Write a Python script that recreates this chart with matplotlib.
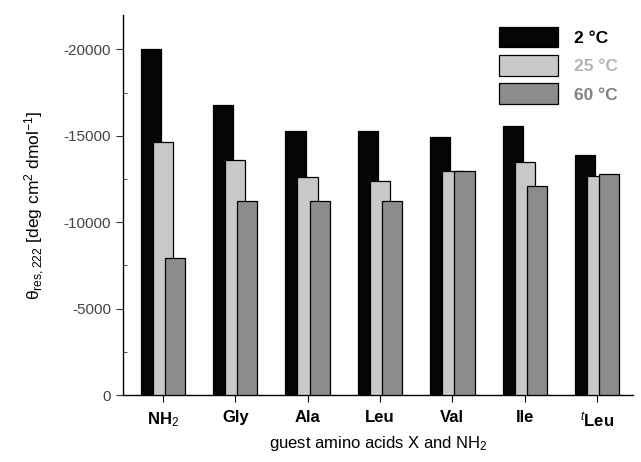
import numpy as np
import matplotlib
matplotlib.use('Agg')
import matplotlib.pyplot as plt
from matplotlib.ticker import MultipleLocator

plt.rcParams['font.family'] = ['Liberation Sans', 'DejaVu Sans']
plt.rcParams['mathtext.fontset'] = 'custom'
plt.rcParams['mathtext.rm'] = 'Liberation Sans'
plt.rcParams['mathtext.it'] = 'Liberation Sans:italic'
plt.rcParams['mathtext.bf'] = 'Liberation Sans:bold'

# data (mean residue ellipticity at 222 nm)
amino = ['NH$_2$', 'Gly', 'Ala', 'Leu', 'Val', 'Ile', '$^t$Leu']
temps = ['2 °C', '25 °C', '60 °C']
t2 = [-20000, -16800, -15300, -15300, -14900, -15550, -13900]
t25 = [-14650, -13600, -12600, -12400, -12950, -13500, -12700]
t60 = [-7950, -11250, -11250, -11250, -12950, -12100, -12800]

colors = ['#050505', '#c8c8c8', '#8c8c8c']
txtcol = ['#000000', '#b4b4b4', '#808080']

fig = plt.figure(figsize=(6.41, 4.62), dpi=100)
ax = fig.add_axes([0.192, 0.145, 0.796, 0.823])

x = np.arange(len(amino))
w = 0.28
off = 0.166
for i, vals in enumerate([t2, t25, t60]):
    ax.bar(x + (i - 1) * off, vals, width=w, color=colors[i],
           edgecolor='black', linewidth=0.9, label=temps[i], zorder=2 + i)

ax.set_xlim(-0.55, 6.5)
ax.set_ylim(0, -22000)
ax.set_yticks([0, -5000, -10000, -15000, -20000])
ax.set_yticklabels(['0', '-5000', '-10000', '-15000', '-20000'], color='#444444')
ax.yaxis.set_minor_locator(MultipleLocator(2500))
ax.tick_params(axis='y', which='major', direction='out', length=5, labelsize=11, color='#333333')
ax.tick_params(axis='y', which='minor', direction='in', length=3, color='#333333')
ax.tick_params(axis='x', which='major', direction='out', length=5, labelsize=12, pad=6)
ax.set_xticks(x)
ax.set_xticklabels(amino, fontweight='bold')

for s in ['top', 'right']:
    ax.spines[s].set_visible(False)
for s in ['left', 'bottom']:
    ax.spines[s].set_linewidth(1.0)

ax.set_xlabel('guest amino acids X and NH$_2$', fontsize=12, labelpad=3)
ax.set_ylabel(r'$\mathrm{\theta_{res,222}}$ [deg cm$^2$ dmol$^{-1}$]', fontsize=12.5, labelpad=12)

leg = ax.legend(loc='upper right', frameon=False, fontsize=12.5, handlelength=3.4,
                handleheight=1.45, labelspacing=0.45, handletextpad=0.9,
                bbox_to_anchor=(1.0, 1.01))
for t, c in zip(leg.get_texts(), txtcol):
    t.set_color(c)
    t.set_fontweight('bold')

fig.savefig('out.png', dpi=100)
